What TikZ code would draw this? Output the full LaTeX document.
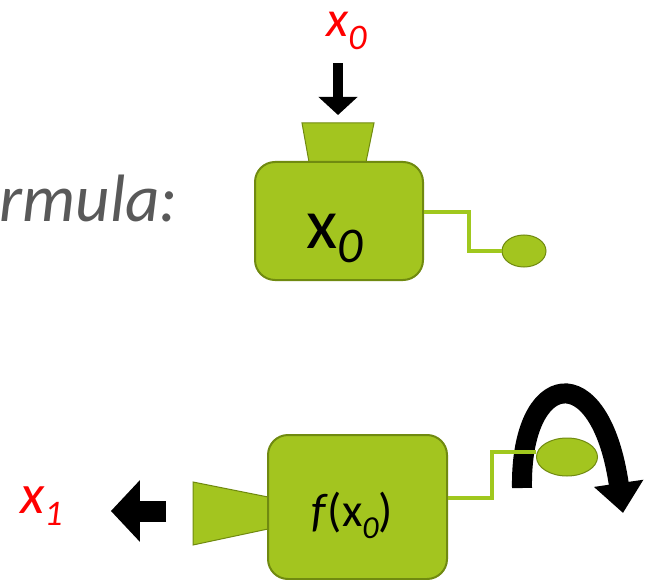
\documentclass[tikz,border=0pt]{standalone}
\usepackage{fontspec}
\setmainfont{Carlito}
\usetikzlibrary{arrows.meta,positioning,calc,shapes.geometric}

\definecolor{grinder}{RGB}{163,197,31}
\definecolor{grinderrim}{RGB}{112,138,16}
\definecolor{handle}{RGB}{160,200,30}
\definecolor{valred}{RGB}{255,0,0}
\definecolor{textgray}{RGB}{89,89,89}

\newcommand{\fs}[1]{\fontsize{#1}{#1}\selectfont}

\begin{document}
\begin{tikzpicture}[x=1pt,y=-1pt,
  machine/.style={draw=grinderrim, line width=2pt, fill=grinder, rounded corners=20pt, inner sep=0pt},
  funnel/.style={draw=grinderrim, line width=1pt, fill=grinder},
  knob/.style={ellipse, draw=grinderrim, line width=1pt, fill=grinder, inner sep=0pt},
  crank/.style={draw=handle, line width=4pt},
  val/.style={text=valred, inner sep=0pt, anchor=base west},
  push/.style={line width=#1, -{Triangle[width=2*#1+18pt, length=#1+8pt]}}]
\useasboundingbox (0,0) rectangle (653,580);

\node[anchor=base east, text=textgray, inner sep=0pt] (formula) at (178,222) {\fs{67}\itshape rmula:};

% first machine: x0 goes in at the top
\draw[funnel] (309,162) -- (302,123) -- (374,123) -- (366,162) -- cycle;
\coordinate (hop0) at (338,123);
\node[machine, minimum width=168pt, minimum height=118pt] (box0) at (339,221) {};
\node[anchor=base west, inner sep=0pt] (sym0) at (306,248) {\fs{72}x\raisebox{-14pt}{\fs{50}\itshape 0}};
\node[knob, minimum width=44pt, minimum height=32pt] (knob0) at (524,251) {};
\draw[crank] ([yshift=9pt]box0.east) -| ([xshift=-33pt]knob0.west) -- (knob0.west);

\node[val] (in0) at (326,37) {\fs{51}\itshape x\raisebox{-13pt}{\fs{36}0}};
\draw[push=10pt, shorten <=13pt, shorten >=8pt] (in0.south -| hop0) -- (hop0);

% second machine: turn the handle, x1 comes out the side
\draw[line width=20pt, -{Triangle[width=48pt, length=30pt]}] (522,488) .. controls (520,370) and (600,355) .. (623,513);
\draw[funnel] (268,497) -- (193,482) -- (193,545) -- (268,529) -- cycle;
\coordinate (spout1) at (193,511);
\node[machine, minimum width=179pt, minimum height=144pt] (box1) at (357.5,507) {};
\node[anchor=base west, inner sep=0pt] (sym1) at (311,526) {\fs{47}\textit{f}(x\raisebox{-12pt}{\fs{32}\itshape 0})};
\node[knob, minimum width=61pt, minimum height=38pt] (knob1) at (567,457) {};
\draw[crank] ([yshift=9pt]box1.east) -| ([xshift=-44pt,yshift=5pt]knob1.west) -- ([yshift=5pt]knob1.west);

\node[val] (out1) at (20,513) {\fs{56}\itshape x\raisebox{-12pt}{\fs{36}1}};
\draw[push=21pt, shorten <=27pt, shorten >=48pt] (spout1) -- (out1.east |- spout1);
\end{tikzpicture}
\end{document}
